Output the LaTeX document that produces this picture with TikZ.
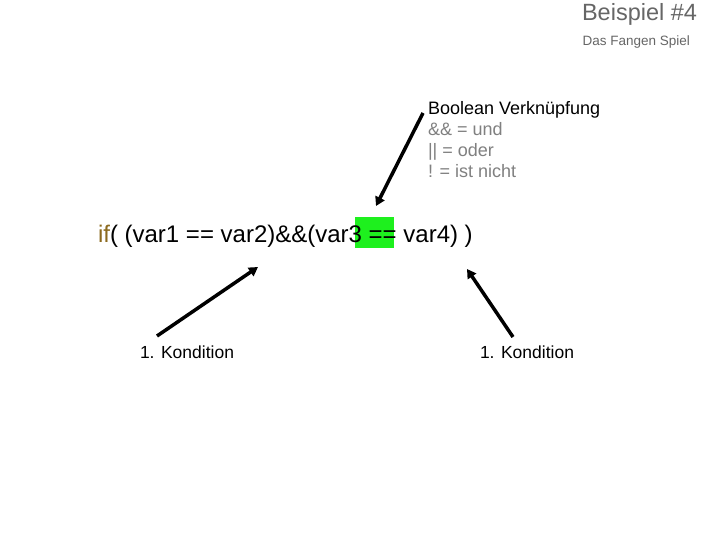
\documentclass[tikz,border=0pt]{standalone}
\usepackage{fontspec}
\setmainfont{Liberation Sans}
\usetikzlibrary{arrows.meta,positioning}
\definecolor{titlegray}{HTML}{666666}
\definecolor{notegray}{HTML}{808080}
\definecolor{ifbrown}{HTML}{8C6A1E}
\definecolor{hlgreen}{HTML}{1EF01E}

\begin{document}
\begin{tikzpicture}[x=1pt,y=-1pt,>=Latex]
\tikzstyle{txt}=[inner sep=0pt,outer sep=0pt]
\tikzstyle{pfeil}=[line width=3.5pt,-{Triangle[length=9pt,width=10pt]}]
\useasboundingbox[fill=white] (0,0) rectangle (720,540);
% Titel
\node[txt,anchor=base east,text=titlegray,font=\fontsize{23.5}{26}\selectfont] (titel) at (697,21) {Beispiel \#4};
\node[txt,anchor=base east,text=titlegray,font=\fontsize{13.5}{16}\selectfont] (untertitel) at (690,46) {Das Fangen Spiel};
% Hinweis (base = letzte Zeile)
\node[txt,anchor=base west,align=left,text=notegray,font=\fontsize{18}{21.3}\selectfont] (boolnote) at (428,178)
  {\textcolor{black}{Boolean Verknüpfung}\\\&\& = und\\|| = oder\\! = ist nicht};
% Code
\node[fill=hlgreen,minimum width=39pt,minimum height=31pt,inner sep=0pt] (hl) at (374.5,232.5) {};
\node[txt,anchor=base west,font=\fontsize{24}{26}\selectfont] (code) at (98,242)
  {\textcolor{ifbrown}{if}( (var1 == var2)\&\&(var3 == var4) )};
\node[txt,anchor=base west,font=\fontsize{17.5}{20}\selectfont] (kond1) at (140,358) {1. Kondition};
\node[txt,anchor=base west,font=\fontsize{17.5}{20}\selectfont] (kond2) at (480,358) {1. Kondition};
% Pfeile
\coordinate (b1) at (423,113);
\coordinate (b2) at (376,206);
\coordinate (k1) at (157,336);
\coordinate (c1) at (258,267);
\coordinate (k2) at (513,337);
\coordinate (c2) at (467,269);
\draw[pfeil] (b1) -- (b2);
\draw[pfeil] (k1) -- (c1);
\draw[pfeil] (k2) -- (c2);
\end{tikzpicture}
\end{document}
